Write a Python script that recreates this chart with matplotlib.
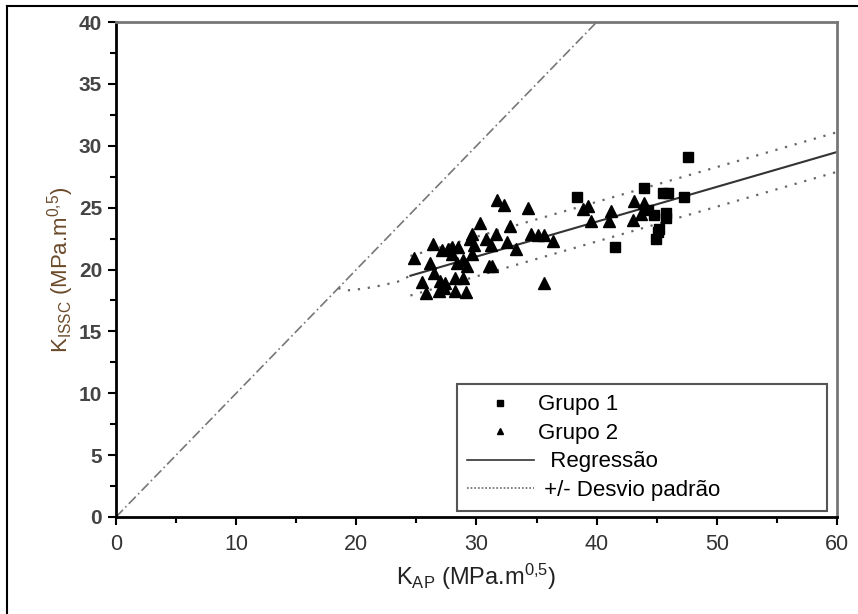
import matplotlib
matplotlib.use("Agg")
import matplotlib.pyplot as plt
from matplotlib.lines import Line2D
from matplotlib.ticker import MultipleLocator

plt.rcParams["font.family"] = ["Liberation Sans", "DejaVu Sans"]
plt.rcParams["mathtext.fontset"] = "custom"
plt.rcParams["mathtext.rm"] = "Liberation Sans"
plt.rcParams["mathtext.it"] = "Liberation Sans"

# Grupo 1 (quadrados)
g1_x = [38.4, 41.5, 43.9, 44.3, 44.8, 44.9, 45.1, 45.2, 45.5, 45.9, 45.8, 45.8, 47.3, 47.6]
g1_y = [25.9, 21.8, 26.6, 24.8, 24.4, 22.5, 23.0, 23.3, 26.2, 26.2, 24.6, 24.2, 25.9, 29.1]

# Grupo 2 (triangulos)
g2_x = [24.8, 25.5, 25.8, 26.1, 26.4, 26.5, 26.9, 27.0, 27.1, 27.3, 27.4, 27.6, 28.0,
        28.0, 28.25, 28.25, 28.4, 28.5, 28.9, 28.9, 29.1, 29.2, 29.5, 29.6, 29.6, 29.8,
        30.3, 30.75, 31.2, 31.3, 31.0, 31.6, 31.7, 32.3, 32.5, 32.8, 33.25, 34.3, 34.5,
        35.1, 35.6, 35.6, 36.4, 38.9, 39.3, 39.5, 41.0, 41.2, 43.0, 43.1, 43.7, 43.9]
g2_y = [20.9, 19.0, 18.1, 20.5, 22.1, 19.7, 18.3, 19.1, 21.6, 18.5, 18.9, 21.7, 21.25,
        21.85, 19.3, 18.3, 20.5, 21.85, 20.8, 19.3, 18.2, 20.3, 22.5, 22.9, 21.25, 22.0,
        23.8, 22.5, 22.0, 20.3, 20.3, 22.9, 25.6, 25.2, 22.25, 23.5, 21.7, 25.0, 22.9,
        22.8, 22.8, 18.9, 22.3, 24.9, 25.1, 23.9, 23.9, 24.75, 24.0, 25.5, 24.5, 25.4]

# linha 1:1
diag_x = [0, 40]
diag_y = [0, 40]

# regressao e +/- desvio padrao
reg_x = [24.5, 60]
reg_y = [19.5, 29.5]
sup_y = [21.1, 31.1]
inf_y = [17.9, 27.9]

# curva pontilhada ligando a linha 1:1 a regressao
curva_x = [18.5, 19.1, 20.6, 22.0, 23.4, 24.5]
curva_y = [18.5, 18.3, 18.45, 18.7, 19.0, 19.5]

fig = plt.figure(figsize=(8.58, 6.14), dpi=100)
ax = fig.add_axes([0.1352, 0.158, 0.8403, 0.806])

ax.plot(diag_x, diag_y, color="#777777", lw=1.2, ls=(0, (6, 2, 1, 2)))
ax.plot(reg_x, reg_y, color="#333333", lw=1.5)
ax.plot(reg_x, sup_y, color="#666666", lw=1.6, ls=(0, (1, 3.5)))
ax.plot(reg_x, inf_y, color="#666666", lw=1.6, ls=(0, (1, 3.5)))
ax.plot(curva_x, curva_y, color="#666666", lw=1.6, ls=(0, (1, 3.5)))

ax.plot(g2_x, g2_y, ls="none", marker="^", ms=8.5, color="black")
ax.plot(g1_x, g1_y, ls="none", marker="s", ms=6.5, color="black")

ax.set_xlim(0, 60)
ax.set_ylim(0, 40)
ax.xaxis.set_major_locator(MultipleLocator(10))
ax.xaxis.set_minor_locator(MultipleLocator(5))
ax.yaxis.set_major_locator(MultipleLocator(5))
ax.yaxis.set_minor_locator(MultipleLocator(2.5))
ax.tick_params(which="major", length=6, width=1.5, direction="out")
ax.tick_params(which="minor", length=4, width=1.5, direction="out")
ax.tick_params(axis="x", labelsize=15.5, labelcolor="#333333", pad=6)
ax.tick_params(axis="y", labelsize=15, labelcolor="#444444", pad=4)
for t in ax.get_yticklabels():
    t.set_fontweight("bold")

for s in ["left", "bottom"]:
    ax.spines[s].set_linewidth(2)
    ax.spines[s].set_color("black")
for s in ["top", "right"]:
    ax.spines[s].set_linewidth(2)
    ax.spines[s].set_color("#777777")

ax.set_xlabel(r"K$_{\mathregular{AP}}$ (MPa.m$^{0{,}5}$)", fontsize=17, color="#222222",
              labelpad=5)
ax.set_ylabel(r"K$_{\mathregular{ISSC}}$ (MPa.m$^{0{,}5}$)", fontsize=16, color="#6b4a2a",
              labelpad=2)

handles = [
    Line2D([], [], ls="none", marker="s", ms=4.5, color="black"),
    Line2D([], [], ls="none", marker="^", ms=5, color="black"),
    Line2D([], [], color="#333333", lw=1.2),
    Line2D([], [], color="#666666", lw=1.2, ls=(0, (1, 1.2))),
]
labels = ["Grupo 1", "Grupo 2", "  Regressão", " +/- Desvio padrão"]
leg = ax.legend(handles, labels, loc="lower left", mode="expand",
                bbox_to_anchor=(0.473, 0.012, 0.513, 0.26), borderaxespad=0,
                fontsize=16, handlelength=3.0, handletextpad=0.2,
                labelspacing=0.34, borderpad=0.45, fancybox=False,
                framealpha=1, edgecolor="#555555")
leg.get_frame().set_linewidth(1.5)

# moldura da figura (topo e esquerda)
fig.add_artist(Line2D([7 / 858, 7 / 858], [0, 1 - 6 / 614], color="black", lw=1.5))
fig.add_artist(Line2D([7 / 858, 1], [1 - 6 / 614, 1 - 6 / 614], color="black", lw=1.5))

fig.savefig("out.png", dpi=100)
